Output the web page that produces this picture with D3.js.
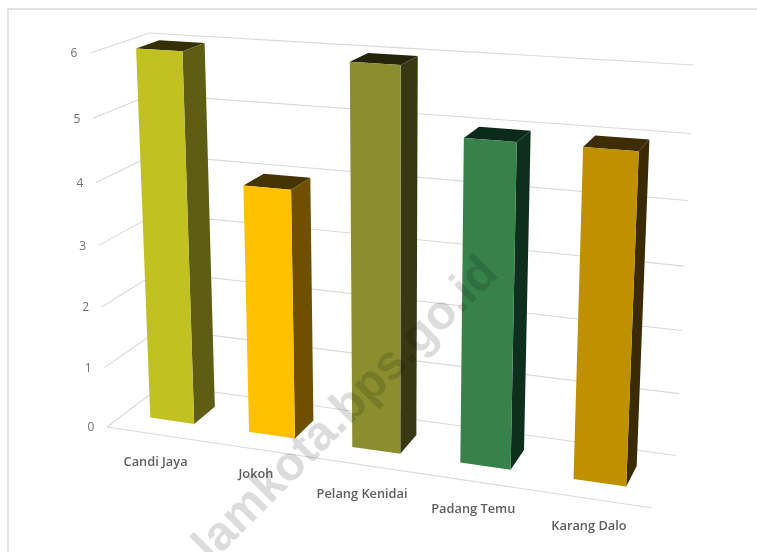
<!DOCTYPE html>
<html><head><meta charset="utf-8">
<script src="https://cdn.jsdelivr.net/npm/d3@7"></script>
<style>html,body{margin:0;padding:0;background:#fff}svg{display:block}</style>
</head><body><svg id="c" width="757" height="552"></svg>
<script>
const categories = ["Candi Jaya","Jokoh","Pelang Kenidai","Padang Temu","Karang Dalo"];
const values = [6,4,6,5,5];
const yTicks = [0,1,2,3,4,5,6];
const frontColors = ["#c1c122","#ffc000","#8a8e2e","#37814a","#bf9000"];
const sideColors = ["#5d5d14","#6e5000","#383913","#0f2f1e","#3a2a05"];
const topColors = ["#352f05","#453300","#23240a","#0c2a1c","#3e2c05"];

// Perspective camera of the 3D plot box (u: along categories, d: depth, t: height)
const O=[107,427], AU=[473.3,25.1], AD=[66,-16.6], AV=[-22,-377];
const persp={u:-0.11,d:0.066,t:-0.056};
function project(u,d,t){
  const w=1+persp.u*u+persp.d*d+persp.t*t;
  return [(O[0]+AU[0]*u+AD[0]*d+AV[0]*t)/w,(O[1]+AU[1]*u+AD[1]*d+AV[1]*t)/w];
}
const yScale=d3.scaleLinear().domain([0,6]).range([0,1]);
const xScale=d3.scaleBand().domain(categories).range([-0.001,0.999]).paddingInner(0.55).paddingOuter(0.275);
const depth=[0.3,0.7];
const labelNudge=[0,-3,2,0,0];
const labelShift=[3,2,2,2,1];

const svg=d3.select("#c");
const root=svg.append("g").style("filter","blur(0.4px)");
root.append("path").attr("d","M757.5,9H8V552").attr("fill","none").attr("stroke","#dcdcdc").attr("stroke-width",1.5);

const line=d3.line();
const grid=root.append("g").attr("fill","none").attr("stroke","#d9d9d9").attr("stroke-width",1.1);
yTicks.forEach(v=>{
  const t=yScale(v);
  grid.append("path").attr("d",line([project(0,0,t),project(0,1,t),project(1,1,t)]));
});
grid.append("path").attr("d",line([project(0,0,0),project(1,0,0)]));

root.append("g").selectAll("text").data(yTicks).join("text")
  .attr("x",v=>project(0,0,yScale(v))[0]-16)
  .attr("y",v=>project(0,0,yScale(v))[1]+1)
  .attr("text-anchor","middle").attr("dominant-baseline","middle")
  .attr("font-family","'Open Sans',sans-serif").attr("font-size",12).attr("fill","#707070")
  .text(d=>d);

const bars=root.append("g").selectAll("g").data(categories).join("g");
bars.each(function(c,i){
  const u0=xScale(c),u1=u0+xScale.bandwidth(),d0=depth[0],d1=depth[1],t=yScale(values[i]);
  const g=d3.select(this);
  g.append("path").attr("fill",topColors[i]).attr("d",line([project(u0,d0,t),project(u1,d0,t),project(u1,d1,t),project(u0,d1,t)])+"Z");
  g.append("path").attr("fill",sideColors[i]).attr("d",line([project(u1,d0,0),project(u1,d1,0),project(u1,d1,t),project(u1,d0,t)])+"Z");
  g.append("path").attr("fill",frontColors[i]).attr("d",line([project(u0,d0,0),project(u1,d0,0),project(u1,d0,t),project(u0,d0,t)])+"Z");
});

root.append("g").selectAll("text").data(categories).join("text")
  .attr("x",(c,i)=>project(xScale(c)+xScale.bandwidth()/2,0,0)[0]-3+labelShift[i])
  .attr("y",(c,i)=>project(xScale(c)+xScale.bandwidth()/2,0,0)[1]+28+labelNudge[i])
  .attr("text-anchor","middle").attr("dominant-baseline","middle")
  .attr("font-family","'Open Sans',sans-serif").attr("font-weight",600).attr("font-size",12.8).attr("fill","#5f5f5f")
  .text(d=>d);

root.append("text").text("lamkota.bps.go.id")
  .attr("transform","translate(500,275) rotate(-45)")
  .attr("text-anchor","end")
  .attr("font-family","'Liberation Sans',sans-serif").attr("font-weight",700).attr("font-size",48)
  .attr("fill","#dcdcdc").style("mix-blend-mode","multiply");
</script></body></html>
